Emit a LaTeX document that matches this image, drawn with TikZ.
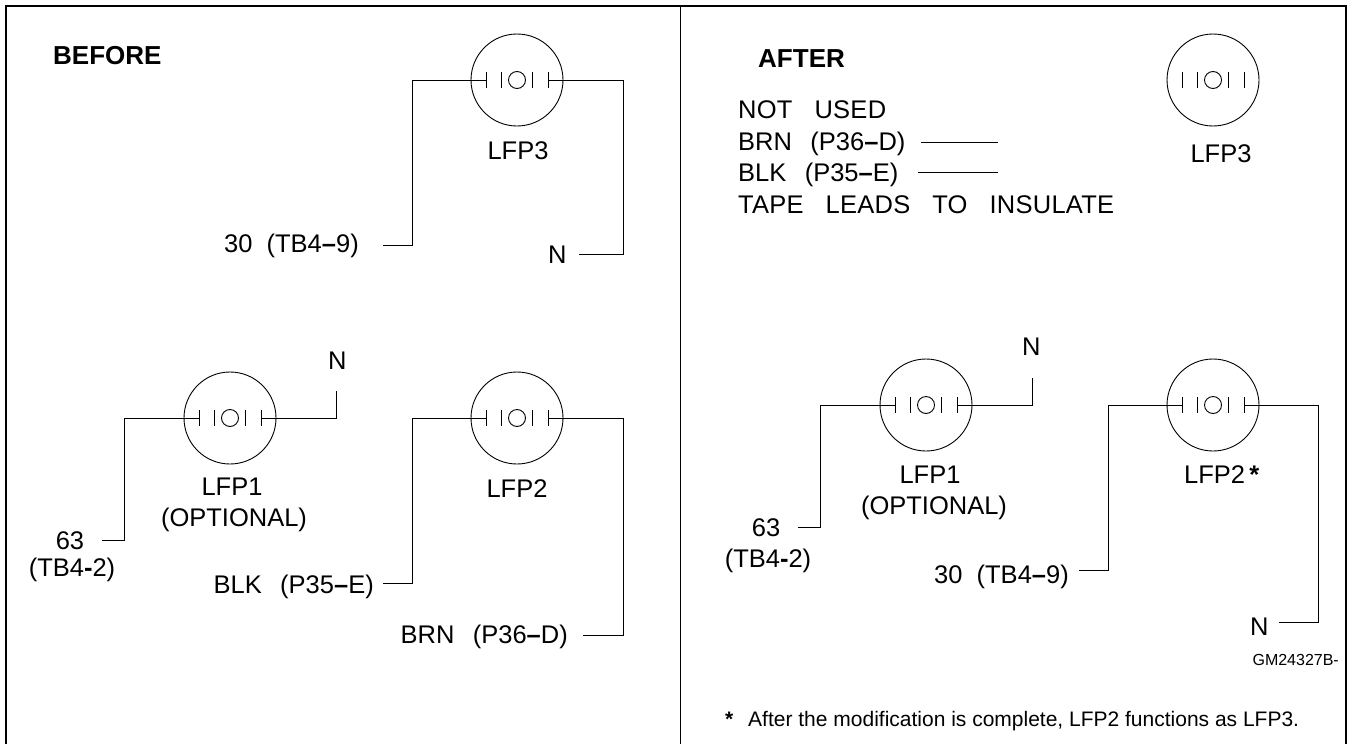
\documentclass[tikz,border=0pt]{standalone}
\usepackage{fontspec}
\setmainfont{Liberation Sans}
\newfontfamily\widefont[WordSpace=2.6]{Liberation Sans}
\newfontfamily\tapefont[WordSpace=3,LetterSpace=1]{Liberation Sans}
\newcommand{\bdash}{{\bfseries –}}
\tikzset{
  wire/.style={line width=1pt},
  frameline/.style={line width=2.6pt},
  lfpcircle/.style={draw,circle,line width=.9pt,minimum size=92pt,inner sep=0pt,outer sep=0pt},
  lfpcontact/.style={draw,circle,line width=.9pt,minimum size=17pt,inner sep=0pt,outer sep=0pt},
  lbl/.style={inner sep=0pt,font=\fontsize{25.5}{30}\selectfont},
  widelbl/.style={inner sep=0pt,font=\fontsize{25.5}{30}\selectfont\widefont},
  tapelbl/.style={inner sep=0pt,font=\fontsize{25.5}{30}\selectfont\tapefont},
  headlbl/.style={inner sep=0pt,font=\fontsize{26}{30}\selectfont\bfseries},
  notelbl/.style={inner sep=0pt,font=\fontsize{21}{26}\selectfont}
}
\newcommand{\lfpsym}[3]{%
  \begin{scope}[shift={(#2,#3)}]
  \node[lfpcircle] (#1) at (0,0) {};
  \node[lfpcontact] (#1c) at (0,0) {};
  \coordinate (#1l) at (-31,0);
  \coordinate (#1r) at (31,0);
  \draw[wire] (-31,-8)--(-31,8);
  \draw[wire] (-15.5,-8)--(-15.5,8);
  \draw[wire] (15.5,-8)--(15.5,8);
  \draw[wire] (31,-8)--(31,8);
  \end{scope}}
\begin{document}
\begin{tikzpicture}[x=1pt,y=-1pt]
\useasboundingbox (0,0) rectangle (1351,744);
% frame
\draw[frameline] (6,744)--(6,6)--(1346,6)--(1346,744);
\draw[wire] (680,6)--(680,744);
% before
\node[headlbl,anchor=base west] (before) at (53,64) {BEFORE};
\lfpsym{bthree}{517}{80}
\lfpsym{bone}{230}{418}
\lfpsym{btwo}{517}{418}
\node[lbl,anchor=base] (bthreelbl) at (518,159) {LFP3};
\node[lbl,anchor=base east] (bthirty) at (359,252) {30~~(TB4\bdash9)};
\node[lbl,anchor=base west] (bnthree) at (548,263) {N};
\node[lbl,anchor=base] (bonelbl) at (232,495) {LFP1};
\node[lbl,anchor=base] (boneopt) at (234,526) {(OPTIONAL)};
\node[lbl,anchor=base] (bsixty) at (70,549) {63};
\node[lbl,anchor=base] (bsixtytb) at (72,576) {(TB4{\bfseries -}2)};
\node[lbl,anchor=base west] (bnone) at (328,369) {N};
\node[lbl,anchor=base] (btwolbl) at (517,497) {LFP2};
\node[widelbl,anchor=base east] (bblk) at (374,593) {BLK (P35\bdash E)};
\node[widelbl,anchor=base east] (bbrn) at (568,643) {BRN (P36\bdash D)};
\coordinate (a1) at (412,245);
\coordinate (a2) at (383,245);
\coordinate (a3) at (623,254);
\coordinate (a4) at (579,254);
\draw[wire] (bthreel)-|(a1)--(a2);
\draw[wire] (bthreer)-|(a3)--(a4);
\coordinate (a5) at (124,540);
\coordinate (a6) at (102,540);
\coordinate (a7) at (336,391);
\draw[wire] (bonel)-|(a5)--(a6);
\draw[wire] (boner)-|(a7);
\coordinate (a8) at (412,583);
\coordinate (a9) at (383,583);
\coordinate (a10) at (623,635);
\coordinate (a11) at (583,635);
\draw[wire] (btwol)-|(a8)--(a9);
\draw[wire] (btwor)-|(a10)--(a11);
% after
\node[headlbl,anchor=base west] (after) at (758,67) {AFTER};
\node[tapelbl,anchor=base west] (notused) at (738,118) {NOT USED};
\node[widelbl,anchor=base west] (abrn) at (738,150) {BRN (P36\bdash D)};
\node[widelbl,anchor=base west] (ablk) at (738,181) {BLK (P35\bdash E)};
\node[tapelbl,anchor=base west] (tape) at (738,213) {TAPE LEADS TO INSULATE};
\coordinate (c1) at (921,142);
\coordinate (c2) at (998,142);
\coordinate (c3) at (918,172);
\coordinate (c4) at (998,172);
\draw[wire] (c1)--(c2);
\draw[wire] (c3)--(c4);
\lfpsym{athree}{1213}{80}
\lfpsym{aone}{926}{405}
\lfpsym{atwo}{1213}{405}
\node[lbl,anchor=base] (athreelbl) at (1221,162) {LFP3};
\node[lbl,anchor=base] (aonelbl) at (930,483) {LFP1};
\node[lbl,anchor=base] (aoneopt) at (934,514) {(OPTIONAL)};
\node[lbl,anchor=base] (asixty) at (766,536) {63};
\node[lbl,anchor=base] (asixtytb) at (768,567) {(TB4{\bfseries -}2)};
\node[lbl,anchor=base west] (anone) at (1022,355) {N};
\node[lbl,anchor=base west] (atwolbl) at (1184,483) {LFP2\,{\bfseries *}};
\node[lbl,anchor=base east] (athirty) at (1069,583) {30~~(TB4\bdash9)};
\node[lbl,anchor=base west] (antwo) at (1250,635) {N};
\coordinate (c5) at (820,527);
\coordinate (c6) at (798,527);
\coordinate (c7) at (1032,378);
\draw[wire] (aonel)-|(c5)--(c6);
\draw[wire] (aoner)-|(c7);
\coordinate (c8) at (1108,570);
\coordinate (c9) at (1079,570);
\coordinate (c10) at (1318,622);
\coordinate (c11) at (1279,622);
\draw[wire] (atwol)-|(c8)--(c9);
\draw[wire] (atwor)-|(c10)--(c11);
\node[inner sep=0pt,anchor=base east,font=\fontsize{16}{18}\selectfont] (gm) at (1339,665) {GM24327B-};
\node[notelbl,anchor=base west] (star) at (725,726) {\bfseries *};
\node[notelbl,anchor=base west] (note) at (748,726) {After the modification is complete, LFP2 functions as LFP3.};
\end{tikzpicture}
\end{document}
